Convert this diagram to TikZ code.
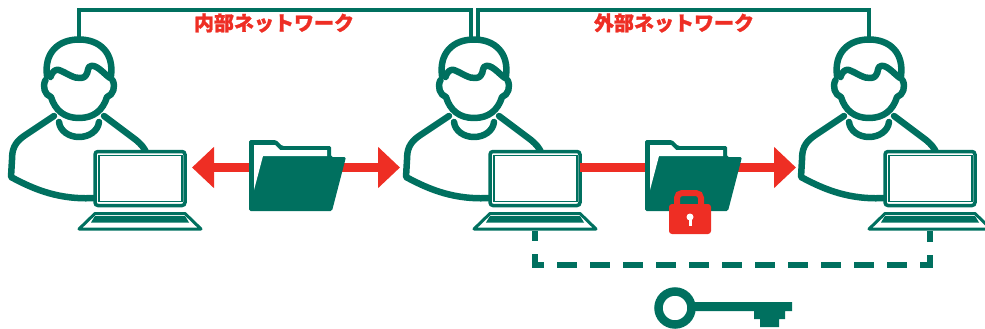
\documentclass[tikz,border=0pt]{standalone}
\usepackage{fontspec}
\newfontfamily\jpfont{Noto Sans CJK JP}[BoldFeatures={FakeBold=1.2}]
\usetikzlibrary{arrows.meta}
\definecolor{teal}{HTML}{00705F}
\definecolor{alert}{HTML}{EE2E24}

\tikzset{
  personline/.style={draw=teal, line width=6.5pt, line join=round, line cap=round},
  netline/.style={draw=teal, line width=4pt},
  keyline/.style={draw=teal, line width=6pt, dash pattern=on 20pt off 13pt, dash phase=10pt},
  flowline/.style={draw=alert, line width=9pt, >={Triangle[length=22pt,width=40pt]}},
  screenbox/.style={draw=teal, fill=white, line width=3.5pt, rounded corners=3pt, inner sep=0pt, outer sep=0pt, minimum width=90pt, minimum height=54pt},
  panelbox/.style={draw=teal, line width=1.5pt, inner sep=0pt, outer sep=0pt, minimum width=83pt, minimum height=46pt},
  netlabel/.style={text=alert, font=\fontsize{20}{20}\jpfont\bfseries, inner sep=0pt},
  % folder, origin at the top left corner
  pics/folder/.style={code={
    \fill[teal, rounded corners=1.5pt] (0,0) -- (27,0) -- (33,6) -- (82,6) -- (82,17) -- (97,17) -- (83,71) -- (0,71) -- cycle;
    \fill[white] (5,5) -- (26,5) -- (31,10) -- (78,10) -- (78,16) -- (14,16) -- (5,50) -- cycle;
  }},
}

\begin{document}
\begin{tikzpicture}[x=1pt, y=-1pt]
\useasboundingbox (0,0) rectangle (985,329);

\coordinate (rail) at (0,10);

\foreach \who/\dx in {A/0,B/395,C/790} {
  \coordinate (head\who) at (79+\dx,38);
  \coordinate (base\who) at (140+\dx,231);
  \begin{scope}[xshift=\dx pt]
    % head and hair
    \draw[personline] (47,76) .. controls (44,53) and (58,39.5) .. (79,39.5) .. controls (100,39.5) and (114,53) .. (111,76);
    \draw[personline] (50.5,77) .. controls (52,72) and (55,69) .. (59,70) .. controls (67,73) and (74,79) .. (81,78) .. controls (89,77) and (87,69) .. (89,67) .. controls (95,62) and (104,74) .. (110,78);
    % face
    \draw[personline] (45.5,80) .. controls (42,87) and (45,95) .. (51,97) .. controls (55,110) and (64,118) .. (79,118) .. controls (94,118) and (103,110) .. (107,97) .. controls (113,95) and (116,87) .. (112.5,80);
    % collar
    \draw[personline] (59,122) .. controls (60,131) and (69,137) .. (79,137) .. controls (89,137) and (98,131) .. (99,122);
    % body
    \draw[personline] (54,116) -- (24,136) .. controls (14,143) and (12,150) .. (12,160) -- (11,177) .. controls (35,190) and (60,200) .. (95,198);
    \draw[personline] (104,116) -- (136,140) .. controls (142,145) and (144,148) .. (146,152);
  \end{scope}
}

\draw[netline] (headA) -- (headA|-rail) -| ([xshift=-3.5pt]headB);
\draw[netline] ([xshift=3.5pt]headB) -- ([xshift=3.5pt]headB|-rail) -| (headC);

\node[netlabel] (labelin) at (274,23) {内部ネットワーク};
\node[netlabel] (labelout) at (674,23) {外部ネットワーク};

\foreach \who/\dx in {A/0,B/395,C/790} {
  \node[screenbox] (screen\who) at (140+\dx,178.5) {};
  \node[panelbox] (panel\who) at (140.5+\dx,178.5) {};
  \draw[teal, fill=white, line width=3pt, line join=round] (95+\dx,213.5) -- (185+\dx,213.5) -- (201+\dx,229) -- (79+\dx,229) -- cycle;
  \fill[teal] (95+\dx,216) -- (185+\dx,216) -- (189+\dx,222.5) -- (91+\dx,222.5) -- cycle;
}

\coordinate (flowL) at (192,167.5);
\coordinate (flowR) at (400,167.5);
\coordinate (flowC) at (796,167.5);
\draw[flowline,<->] (flowL) -- (flowR);
\draw[flowline,->] (screenB.east|-flowC) -- (flowC);

\pic (folderin) at (249,140) {folder};
\pic (folderout) at (645,140) {folder};

% lock
\draw[alert, line width=6pt, rounded corners=5pt] (677,206) -- (677,193) -- (701,193) -- (701,206);
\fill[alert, rounded corners=3pt] (669,204) rectangle (711,234);
\fill[white] (690,217) circle (3.5pt);
\fill[white] (688.5,218) rectangle (691.5,226);

% key
\draw[keyline] (baseB) -- ++(0,34) -| (baseC);
\draw[teal, line width=8.5pt] (675,308) circle (16.5pt);
\fill[teal] (695,302) -- (792,302) -- (792,311) -- (785,311) -- (785,319) -- (779,319) -- (779,327) -- (760,327) -- (760,319) -- (754,319) -- (754,311) -- (695,311) -- cycle;

\end{tikzpicture}
\end{document}
